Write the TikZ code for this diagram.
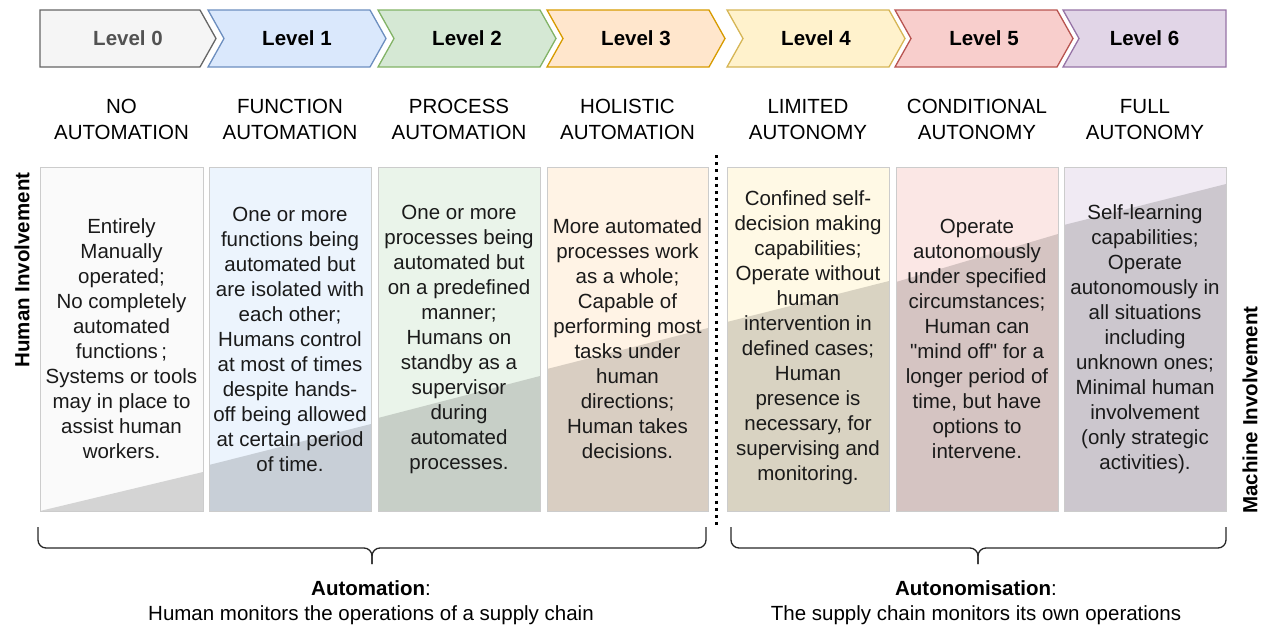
\documentclass[tikz,border=0pt]{standalone}
\usepackage{fontspec}
\setmainfont{Liberation Sans}
\newfontfamily\qfont{Liberation Sans}
\definecolor{c0}{HTML}{F5F5F5}\definecolor{s0}{HTML}{666666}
\definecolor{c1}{HTML}{DAE8FC}\definecolor{s1}{HTML}{6C8EBF}
\definecolor{c2}{HTML}{D5E8D4}\definecolor{s2}{HTML}{82B366}
\definecolor{c3}{HTML}{FFE6CC}\definecolor{s3}{HTML}{D79B00}
\definecolor{c4}{HTML}{FFF2CC}\definecolor{s4}{HTML}{D6B656}
\definecolor{c5}{HTML}{F8CECC}\definecolor{s5}{HTML}{B85450}
\definecolor{c6}{HTML}{E1D5E7}\definecolor{s6}{HTML}{9673A6}
\definecolor{boxgray}{HTML}{CCCCCC}
\definecolor{txtdark}{HTML}{1A1A1A}
\begin{document}
\begin{tikzpicture}[x=1pt,y=-1pt,
  txt/.style={font=\fontsize{20.5}{25}\selectfont, align=center, inner sep=0pt, text=txtdark},
  head/.style={font=\fontsize{20.5}{26}\selectfont, align=center, inner sep=0pt, text=black},
  lvl/.style={font=\bfseries\fontsize{20.5}{25}\selectfont, inner sep=0pt, text=black},
  chev/.style={line width=1.3pt, line join=miter},
  boxframe/.style={draw=boxgray, line width=1pt},
  shadepart/.style={fill=black, fill opacity=0.15, draw=none},
  bracestyle/.style={draw=black!85, line width=1.3pt, rounded corners=8pt},
  dotline/.style={line width=3pt, dash pattern=on 3pt off 4.2pt},
]
\useasboundingbox (0,0) rectangle (1267,629);

% chevrons
\draw[chev, fill=c0, draw=s0] (40,10) -- (200,10) -- (216,38.5) -- (200,67) -- (40,67) -- cycle;
\foreach \x/\c/\s in {208/c1/s1, 378/c2/s2, 547/c3/s3, 727/c4/s4, 895/c5/s5}{
  \draw[chev, fill=\c, draw=\s] (\x,10) -- ++(162,0) -- ++(16,28.5) -- ++(-16,28.5) -- ++(-162,0) -- ++(16,-28.5) -- cycle;
}
\draw[chev, fill=c6, draw=s6] (1063,10) -- (1226,10) -- (1226,67) -- (1063,67) -- (1079,38.5) -- cycle;

\node[lvl, text=s0!80!black] (L0) at (128,38.5) {Level 0};
\node[lvl] (L1) at (297,38.5) {Level 1};
\node[lvl] (L2) at (467,38.5) {Level 2};
\node[lvl] (L3) at (636,38.5) {Level 3};
\node[lvl] (L4) at (816,38.5) {Level 4};
\node[lvl] (L5) at (984,38.5) {Level 5};
\node[lvl] (L6) at (1144.5,38.5) {Level 6};

% headings
\node[head] (H0) at (121.5,119) {NO\\AUTOMATION};
\node[head] (H1) at (290,119) {FUNCTION\\AUTOMATION};
\node[head] (H2) at (459,119) {PROCESS\\AUTOMATION};
\node[head] (H3) at (627.5,119) {HOLISTIC\\AUTOMATION};
\node[head] (H4) at (808,120) {LIMITED\\AUTONOMY};
\node[head] (H5) at (977,119) {CONDITIONAL\\AUTONOMY};
\node[head] (H6) at (1145,120) {FULL\\AUTONOMY};

% boxes
\foreach \xl/\xr/\yl/\yr/\c in {40/203/511/472/c0, 209/371/465/424/c1, 378/540/418/376/c2, 547/708/369/328/c3, 727/889/322/281/c4, 896/1058/282/234/c5, 1064/1226/225/184/c6}{
  \fill[\c!50!white] (\xl,167) rectangle (\xr,511);
  \fill[shadepart] (\xl,\yl) -- (\xr,\yr) -- (\xr,511) -- (\xl,511) -- cycle;
  \draw[boxframe] (\xl,167) rectangle (\xr,511);
}

\node[txt] (B0) at (121.5,339) {Entirely\\Manually\\operated;\\No completely\\automated\\functions\,;\\Systems or tools\\may in place to\\assist human\\workers.};
\node[txt] (B1) at (290,339.5) {One or more\\functions being\\automated but\\are isolated with\\each other;\\Humans control\\at most of times\\despite hands-\\off being allowed\\at certain period\\of time.};
\node[txt] (B2) at (459,339.5) {One or more\\processes being\\automated but\\on a predefined\\manner;\\Humans on\\standby as a\\supervisor\\during\\automated\\processes.};
\node[txt] (B3) at (627.5,339) {More automated\\processes work\\as a whole;\\Capable of\\performing most\\tasks under\\human\\directions;\\Human takes\\decisions.};
\node[txt] (B4) at (808,338) {Confined self-\\decision making\\capabilities;\\Operate without\\human\\intervention in\\defined cases;\\Human\\presence is\\necessary, for\\supervising and\\monitoring.};
\node[txt] (B5) at (977,339) {Operate\\autonomously\\under specified\\circumstances;\\Human can\\{\qfont"}mind off{\qfont"} for a\\longer period of\\time, but have\\options to\\intervene.};
\node[txt] (B6) at (1145,339.5) {Self-learning\\capabilities;\\Operate\\autonomously in\\all situations\\including\\unknown ones;\\Minimal human\\involvement\\(only strategic\\activities).};

% side labels
\node[lvl, rotate=90] (HI) at (22,270) {Human Involvement};
\node[lvl, rotate=90] (MI) at (1250,410) {Machine Involvement};

% dotted separator
\coordinate (dtop) at (716,155);
\coordinate (dbot) at (716,527);
\draw[dotline] (dtop) -- (dbot);

% braces
\coordinate (aL) at (38,527); \coordinate (aLc) at (38,548);
\coordinate (aR) at (706,527); \coordinate (aRc) at (706,548);
\coordinate (aM) at (372,548); \coordinate (aT) at (372,564);
\draw[bracestyle] (aL) -- (aLc) -- (aM) -- (aT);
\draw[bracestyle] (aR) -- (aRc) -- (aM) -- (aT);
\coordinate (bL) at (731,527); \coordinate (bLc) at (731,548);
\coordinate (bR) at (1226,527); \coordinate (bRc) at (1226,548);
\coordinate (bM) at (978,548); \coordinate (bT) at (978,564);
\draw[bracestyle] (bL) -- (bLc) -- (bM) -- (bT);
\draw[bracestyle] (bR) -- (bRc) -- (bM) -- (bT);

% bottom captions
\node[head, font=\fontsize{20.5}{25}\selectfont] (capA) at (371,602.5) {\textbf{Automation}:\\Human monitors the operations of a supply chain};
\node[head, font=\fontsize{20.5}{25}\selectfont] (capB) at (976,602.5) {\textbf{Autonomisation}:\\The supply chain monitors its own operations};
\end{tikzpicture}
\end{document}
